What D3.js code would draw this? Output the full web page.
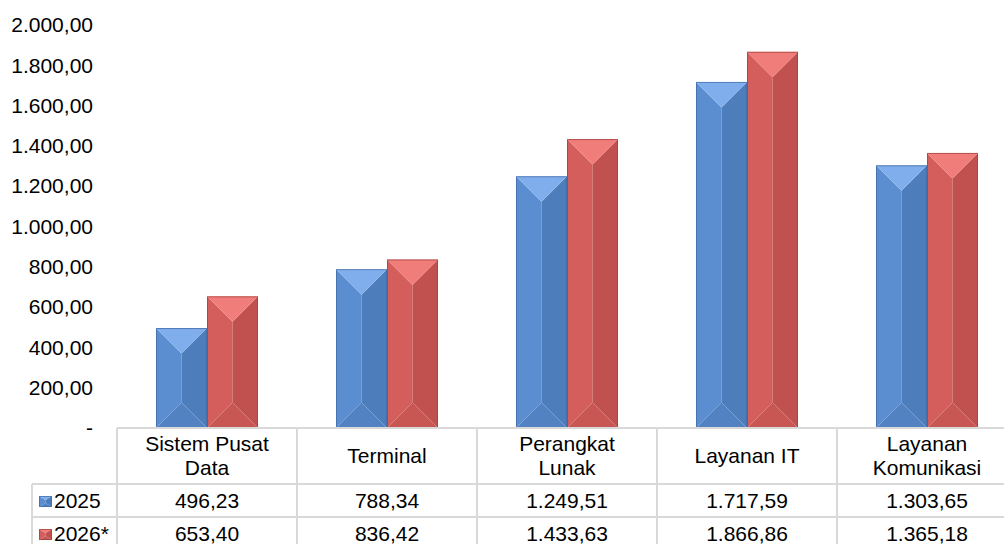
<!DOCTYPE html>
<html>
<head>
<meta charset="utf-8">
<script src="https://cdn.jsdelivr.net/npm/d3@7"></script>
<style>
  body { margin: 0; background: #fff; }
  text { font-family: "Liberation Sans", Arial, sans-serif; fill: #000; }
</style>
</head>
<body>
<svg id="chart" width="1004" height="544"></svg>
<script>
// data
var categories = ['Sistem Pusat Data', 'Terminal', 'Perangkat Lunak', 'Layanan IT', 'Layanan Komunikasi'];
var categoryLines = [['Sistem Pusat', 'Data'], ['Terminal'], ['Perangkat', 'Lunak'], ['Layanan IT'], ['Layanan', 'Komunikasi']];
var seriesNames = ['2025', '2026*'];
var values2025 = [496.23, 788.34, 1249.51, 1717.59, 1303.65];
var values2026 = [653.40, 836.42, 1433.63, 1866.86, 1365.18];
var yTicks = [0, 200, 400, 600, 800, 1000, 1200, 1400, 1600, 1800, 2000];

var seriesValues = [values2025, values2026];
// face colours: [top, left, right, bottom, edge]
var seriesColors = [
  ['#80adeb', '#5b8ed1', '#4d7dbb', '#5282c2', '#3f6aa3'],
  ['#f17d7a', '#d45e5b', '#c1514e', '#c85653', '#9e3e3b']
];

var idLocale = d3.formatLocale({decimal: ',', thousands: '.', grouping: [3], currency: ['', '']});
var fmt = idLocale.format(',.2f');
var fmtTick = function(d){ return d === 0 ? '-' : fmt(d); };

var svg = d3.select('#chart');
var lineColor = '#d9d9d9';

// scales
var y = d3.scaleLinear().domain([0, 2000]).range([428, 25]);
var x = d3.scaleBand().domain(categories).range([117, 1017]);
var xs = d3.scaleBand().domain(seriesNames).range([39, 141]);

// y axis, labels only
var yAxis = d3.axisLeft(y).tickValues(yTicks).tickFormat(fmtTick).tickSize(0).tickPadding(0);
var yG = svg.append('g').attr('transform', 'translate(93,0)').call(yAxis);
yG.select('.domain').remove();
yG.selectAll('text').style('font-size', '21px').style('font-family', '"Liberation Sans", Arial, sans-serif').attr('fill', '#000');

// bevelled bar
function bevelBar(g, x0, w, yTop, yBot, c, bev){
  var x1 = x0 + w, xm = x0 + w / 2;
  var b = Math.min(bev, (yBot - yTop) / 2);
  var pts = function(a){ return a.map(function(p){ return p.join(','); }).join(' '); };
  g.append('polygon').attr('points', pts([[x0, yTop], [xm, yTop + b], [xm, yBot - b], [x0, yBot]])).attr('fill', c[1]);
  g.append('polygon').attr('points', pts([[x1, yTop], [xm, yTop + b], [xm, yBot - b], [x1, yBot]])).attr('fill', c[2]);
  g.append('polygon').attr('points', pts([[x0, yTop], [x1, yTop], [xm, yTop + b]])).attr('fill', c[0]);
  g.append('polygon').attr('points', pts([[x0, yBot], [x1, yBot], [xm, yBot - b]])).attr('fill', c[3]);
  g.append('rect').attr('x', x0 + 0.5).attr('y', yTop + 0.5).attr('width', w - 1).attr('height', yBot - yTop - 1)
    .attr('fill', 'none').attr('stroke', c[4]).attr('stroke-width', 1).attr('stroke-opacity', 0.7);
}

var bars = svg.append('g');
seriesNames.forEach(function(s, si){
  categories.forEach(function(cat, ci){
    var v = seriesValues[si][ci];
    bevelBar(bars, x(cat) + xs(s), xs.bandwidth(), y(v), y(0), seriesColors[si], xs.bandwidth() / 2);
  });
});

// data table
var table = svg.append('g');
var rowTop = 428, headBot = 484, row1Bot = 517, row2Bot = 550;
function hline(x1, x2, yy){ table.append('line').attr('x1', x1).attr('x2', x2).attr('y1', yy).attr('y2', yy).attr('stroke', lineColor).attr('stroke-width', 2); }
function vline(xx, y1, y2){ table.append('line').attr('x1', xx).attr('x2', xx).attr('y1', y1).attr('y2', y2).attr('stroke', lineColor).attr('stroke-width', 2); }
hline(117, 1004, rowTop);
hline(32, 1004, headBot);
hline(32, 1004, row1Bot);
vline(32, headBot, row2Bot);
categories.forEach(function(cat){ vline(x(cat), rowTop, row2Bot); });

// header labels
categories.forEach(function(cat, ci){
  var lines = categoryLines[ci];
  var base = lines.length === 2 ? 451 : 463;
  var t = table.append('text').attr('text-anchor', 'middle').style('font-size', '21px');
  lines.forEach(function(l, li){
    t.append('tspan').attr('x', x(cat) + x.bandwidth() / 2).attr('y', base + li * 24).text(l);
  });
});

// value rows
var rowBase = [508, 541];
seriesNames.forEach(function(s, si){
  categories.forEach(function(cat, ci){
    table.append('text').attr('x', x(cat) + x.bandwidth() / 2).attr('y', rowBase[si])
      .attr('text-anchor', 'middle').style('font-size', '21px').text(fmt(seriesValues[si][ci]));
  });
  // legend key
  var ky = rowBase[si] - 12;
  bevelBar(table, 39, 13, ky, ky + 11, seriesColors[si], 4);
  table.append('text').attr('x', 54).attr('y', rowBase[si]).style('font-size', '21px').text(s);
});
</script>
</body>
</html>
